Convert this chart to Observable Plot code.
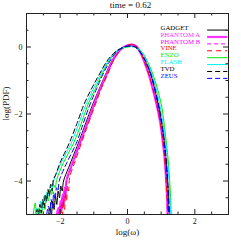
<!DOCTYPE html>
<html><head><meta charset="utf-8">
<script src="https://cdn.jsdelivr.net/npm/d3@7"></script>
<script src="https://cdn.jsdelivr.net/npm/@observablehq/plot@0.6"></script>
<style>body{margin:0;background:#fff}</style>
</head><body><div id="chart"></div>
<script>
const title = "time = 0.62";
const xLabel = "log(ω)";
const yLabel = "log(PDF)";
const seriesNames = ["GADGET","PHANTOM A","PHANTOM B","VINE","ENZO","FLASH","TVD","ZEUS"];
const seriesColors = ["#000000","#ff33ff","#ff00ff","#ff0000","#00e800","#00f0f0","#000000","#0000ff"];
const seriesWidths = [1,2.2,1,1,1,1,1,1];
const seriesDash = [null,null,"4,3","5,4",null,null,"5,3","5,3"];
const xMajor = [-2,0,2];
const xMinor = [-2.5,-1.5,-1,-0.5,0.5,1,1.5,2.5];
const yMajor = [0,-2,-4];
const yMinor = [0.5,-0.5,-1,-1.5,-2.5,-3,-3.5,-4.5];

const GADGET = [[-2.35,-5.0],[-2.3,-4.8],[-2.26,-5.0],[-2.22,-4.6],[-2.18,-4.85],[-2.14,-4.45],[-2.1,-4.7],[-2.06,-4.3],[-2.02,-4.5],[-1.98,-4.15],[-1.94,-4.3],[-1.9,-4.0],
 [-1.75,-3.6],[-1.46,-2.87],[-1.25,-2.3],[-1.04,-1.73],[-0.84,-1.25],[-0.66,-0.84],[-0.43,-0.35],[-0.2,-0.07],[0.0,0.03],[0.12,0.05],[0.26,0.01],[0.4,-0.2],[0.56,-0.5],[0.7,-0.85],[0.84,-1.4],[0.96,-1.95],[1.05,-2.5],[1.11,-3.0],[1.16,-3.55],[1.2,-4.15],[1.22,-4.6],[1.24,-5.05]];
const PHANTOM_A = [[-2.1,-5.0],[-2.05,-4.8],[-2.02,-5.0],[-1.99,-4.6],[-1.96,-4.9],[-1.93,-4.4],[-1.9,-4.7],[-1.87,-4.2],[-1.84,-4.4],[-1.81,-3.97],
 [-1.62,-3.42],[-1.42,-2.87],[-1.2,-2.28],[-1.0,-1.73],[-0.8,-1.22],[-0.63,-0.84],[-0.41,-0.35],[-0.2,-0.07],[0.0,0.05],[0.12,0.07],[0.25,0.03],[0.39,-0.18],[0.5,-0.45],[0.63,-0.82],[0.75,-1.25],[0.88,-1.79],[0.97,-2.25],[1.03,-2.68],[1.09,-3.2],[1.13,-3.7],[1.16,-4.2],[1.18,-4.6],[1.19,-5.05]];
const PHANTOM_B = [[-2.05,-5.0],[-2.0,-4.75],[-1.97,-4.95],[-1.94,-4.5],[-1.91,-4.8],[-1.88,-4.3],[-1.85,-4.5],[-1.82,-4.1],[-1.79,-3.95],
 [-1.6,-3.42],[-1.4,-2.87],[-1.18,-2.28],[-0.98,-1.73],[-0.79,-1.22],[-0.62,-0.84],[-0.4,-0.35],[-0.19,-0.07],[0.0,0.05],[0.13,0.07],[0.26,0.03],[0.4,-0.18],[0.51,-0.45],[0.64,-0.82],[0.76,-1.25],[0.89,-1.79],[0.98,-2.25],[1.04,-2.68],[1.1,-3.2],[1.14,-3.7],[1.17,-4.2],[1.19,-4.6],[1.2,-5.05]];
const VINE = [[-2.0,-5.0],[-1.96,-4.7],[-1.93,-5.0],[-1.9,-4.55],[-1.87,-4.85],[-1.84,-4.35],[-1.81,-4.6],[-1.78,-4.15],[-1.75,-4.3],[-1.72,-3.9],
 [-1.56,-3.42],[-1.37,-2.87],[-1.16,-2.28],[-0.96,-1.73],[-0.77,-1.22],[-0.6,-0.84],[-0.39,-0.35],[-0.18,-0.06],[0.0,0.05],[0.12,0.08],[0.25,0.04],[0.39,-0.17],[0.5,-0.44],[0.63,-0.8],[0.75,-1.23],[0.88,-1.77],[0.97,-2.23],[1.03,-2.66],[1.09,-3.18],[1.13,-3.7],[1.16,-4.2],[1.18,-4.6],[1.19,-5.05]];
const ENZO = [[-2.8,-5.0],[-2.74,-4.65],[-2.7,-5.0],[-2.62,-4.8],[-2.56,-5.0],[-2.5,-4.6],[-2.45,-4.85],[-2.4,-4.4],[-2.35,-4.6],[-2.3,-4.25],[-2.25,-4.4],[-2.2,-4.1],[-2.15,-4.2],[-2.1,-3.95],
 [-1.9,-3.45],[-1.6,-2.87],[-1.38,-2.3],[-1.18,-1.73],[-0.97,-1.27],[-0.77,-0.84],[-0.51,-0.35],[-0.25,-0.08],[0.0,0.0],[0.2,0.01],[0.35,-0.07],[0.48,-0.22],[0.6,-0.45],[0.72,-0.72],[0.83,-1.05],[0.93,-1.4],[1.03,-1.85],[1.1,-2.4],[1.16,-2.9],[1.21,-3.4],[1.25,-3.95],[1.28,-4.5],[1.3,-5.05]];
const FLASH = [[-2.75,-5.0],[-2.68,-4.8],[-2.64,-5.0],[-2.58,-4.6],[-2.54,-4.85],[-2.48,-4.45],[-2.44,-4.65],[-2.38,-4.3],[-2.34,-4.45],[-2.28,-4.1],[-2.24,-4.2],[-2.18,-3.95],
 [-1.95,-3.42],[-1.67,-2.87],[-1.45,-2.3],[-1.24,-1.73],[-1.02,-1.26],[-0.81,-0.84],[-0.53,-0.35],[-0.27,-0.08],[0.0,0.01],[0.14,0.02],[0.28,-0.03],[0.43,-0.17],[0.56,-0.4],[0.68,-0.68],[0.79,-1.02],[0.9,-1.45],[1.0,-1.95],[1.08,-2.45],[1.14,-2.9],[1.19,-3.4],[1.23,-3.95],[1.26,-4.5],[1.28,-5.05]];
const TVD = [[-2.9,-5.0],[-2.75,-5.0],[-2.68,-4.85],[-2.64,-5.0],[-2.6,-4.7],[-2.56,-4.95],[-2.52,-4.55],[-2.48,-4.8],[-2.44,-4.4],[-2.4,-4.6],[-2.36,-4.25],[-2.32,-4.45],[-2.28,-4.1],[-2.24,-4.3],[-2.2,-3.95],[-2.15,-3.85],
 [-2.0,-3.45],[-1.73,-2.87],[-1.5,-2.28],[-1.3,-1.73],[-1.07,-1.25],[-0.85,-0.84],[-0.56,-0.35],[-0.3,-0.1],[-0.05,0.01],[0.1,0.03],[0.25,0.0],[0.4,-0.18],[0.55,-0.45],[0.7,-0.82],[0.83,-1.3],[0.95,-1.85],[1.04,-2.4],[1.11,-2.95],[1.16,-3.5],[1.2,-4.1],[1.23,-4.6],[1.25,-5.05]];
const ZEUS = [[-2.4,-5.0],[-2.35,-4.75],[-2.31,-5.0],[-2.27,-4.55],[-2.23,-4.8],[-2.19,-4.35],[-2.15,-4.55],[-2.11,-4.2],[-2.07,-4.3],[-2.02,-3.97],
 [-1.8,-3.45],[-1.52,-2.87],[-1.32,-2.3],[-1.12,-1.73],[-0.92,-1.25],[-0.74,-0.84],[-0.52,-0.42],[-0.32,-0.14],[-0.12,0.0],[0.0,0.03],[0.1,0.0],[0.2,0.01],[0.3,-0.08],[0.44,-0.24],[0.58,-0.52],[0.72,-0.92],[0.85,-1.45],[0.96,-2.0],[1.04,-2.5],[1.1,-3.0],[1.15,-3.55],[1.19,-4.15],[1.21,-4.6],[1.22,-5.05]];

const seriesData = [GADGET,PHANTOM_A,PHANTOM_B,VINE,ENZO,FLASH,TVD,ZEUS];

const W = 241, H = 241, mL = 26, mR = 13, mT = 13, mB = 27;
const fw = W - mL - mR, fh = H - mT - mB;
const fmt = d => d < 0 ? "\u2212" + Math.abs(d) : String(d);

const marks = [];
seriesData.forEach((pts, i) => {
  marks.push(Plot.line(pts, {x: d => d[0], y: d => d[1], stroke: seriesColors[i], strokeWidth: seriesWidths[i],
    strokeDasharray: seriesDash[i] || undefined, curve: "catmull-rom", clip: true}));
});
// legend
const legX = 0.98, legY0 = 0.58, legStep = 0.206, legL1 = 2.38, legL2 = 2.98;
seriesNames.forEach((name, i) => {
  const yy = legY0 - i * legStep;
  marks.push(Plot.text([name], {x: () => legX, y: () => yy, text: d => d, fill: seriesColors[i], textAnchor: "start", lineAnchor: "middle", fontSize: 6.8}));
  marks.push(Plot.ruleY([yy], {x1: legL1, x2: legL2, dy: 2.5, stroke: seriesColors[i], strokeWidth: seriesWidths[i], strokeDasharray: seriesDash[i] || undefined}));
});
// ticks
marks.push(Plot.ruleX(xMajor, {insetTop: fh - 5, stroke: "#222"}));
marks.push(Plot.ruleX(xMajor, {insetBottom: fh - 5, stroke: "#222"}));
marks.push(Plot.ruleX(xMinor, {insetTop: fh - 2.5, stroke: "#222"}));
marks.push(Plot.ruleX(xMinor, {insetBottom: fh - 2.5, stroke: "#222"}));
marks.push(Plot.ruleY(yMajor, {insetRight: fw - 5, stroke: "#222"}));
marks.push(Plot.ruleY(yMajor, {insetLeft: fw - 5, stroke: "#222"}));
marks.push(Plot.ruleY(yMinor, {insetRight: fw - 2.5, stroke: "#222"}));
marks.push(Plot.ruleY(yMinor, {insetLeft: fw - 2.5, stroke: "#222"}));
marks.push(Plot.frame({stroke: "#222"}));
// tick labels
marks.push(Plot.text(xMajor, {x: d => d, frameAnchor: "bottom", dy: 7, lineAnchor: "middle", text: fmt, fontSize: 8, fill: "#111"}));
marks.push(Plot.text(yMajor, {y: d => d, frameAnchor: "left", dx: -4, textAnchor: "end", lineAnchor: "middle", text: fmt, fontSize: 8, fill: "#111"}));
// titles
marks.push(Plot.text([title], {frameAnchor: "top", dx: 3, dy: -8, lineAnchor: "middle", text: d => d, fontSize: 9, fill: "#111"}));
marks.push(Plot.text([xLabel], {frameAnchor: "bottom", dy: 18, lineAnchor: "middle", text: d => d, fontSize: 9, fill: "#111"}));
marks.push(Plot.text([yLabel], {frameAnchor: "left", dx: -20, dy: 6.5, rotate: -90, lineAnchor: "middle", text: d => d, fontSize: 9, fill: "#111"}));

const chart = Plot.plot({
  width: W, height: H, marginLeft: mL, marginRight: mR, marginTop: mT, marginBottom: mB,
  x: {domain: [-3, 3], axis: null},
  y: {domain: [-5, 1], axis: null},
  style: {fontFamily: "Liberation Serif", background: "white", overflow: "visible"},
  marks
});
document.getElementById("chart").appendChild(chart);
</script>
</body></html>
